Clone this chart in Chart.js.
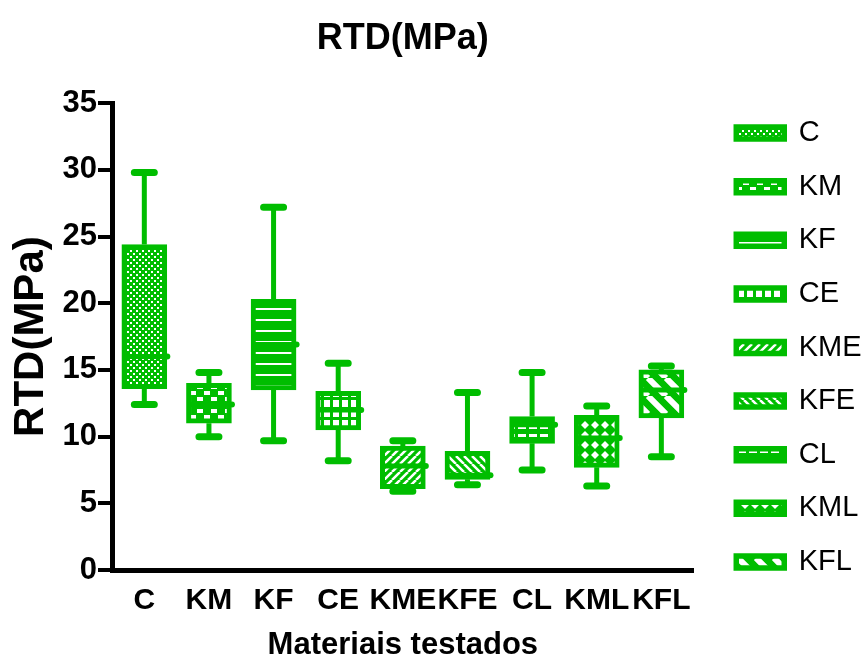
<!DOCTYPE html>
<html>
<head>
<meta charset="utf-8">
<script src="https://cdn.jsdelivr.net/npm/chart.js@4.4.1/dist/chart.umd.min.js"></script>
<style>
  html, body { margin: 0; padding: 0; background: #fff; }
</style>
</head>
<body>
<canvas id="rtdChart" width="866" height="664"></canvas>
<script>
// values (MPa)
const categories = ['C', 'KM', 'KF', 'CE', 'KME', 'KFE', 'CL', 'KML', 'KFL'];
const whiskerLow  = [12.4, 10.0,  9.7,  8.2, 5.9,  6.4,  7.5,  6.3,  8.5];
const quartile1   = [13.6, 11.0, 13.5, 10.5, 6.1,  6.8,  9.5,  7.7, 11.4];
const medians     = [16.0, 12.4, 16.9, 12.0, 7.8,  7.1, 10.9,  9.9, 13.5];
const quartile3   = [24.4, 14.0, 20.3, 13.4, 9.3,  8.9, 11.5, 11.6, 15.0];
const whiskerHigh = [29.8, 14.8, 27.2, 15.5, 9.7, 13.3, 14.8, 12.3, 15.3];
const yTicks = [0, 5, 10, 15, 20, 25, 30, 35];

const green = '#00bd00';
const sans = "'Liberation Sans', Arial, sans-serif";

// small tiles used as fill patterns, one per material
function makePattern(w, h, draw) {
    const c = document.createElement('canvas');
    c.width = w;
    c.height = h;
    const g = c.getContext('2d');
    g.fillStyle = green;
    g.fillRect(0, 0, w, h);
    g.fillStyle = '#fff';
    g.strokeStyle = '#fff';
    draw(g, w, h);
    return g.createPattern(c, 'repeat');
}

function stripes(g, s, width, dir) {
    g.lineWidth = width;
    g.beginPath();
    for (let k = -1; k <= 1; k++) {
        if (dir > 0) {
            g.moveTo(k * s, s);
            g.lineTo(k * s + s, 0);
        } else {
            g.moveTo(k * s, 0);
            g.lineTo(k * s + s, s);
        }
    }
    g.stroke();
}

const patterns = [
    makePattern(6, 6, g => { g.fillRect(1, 1, 2, 2); g.fillRect(4, 4, 2, 2); }),
    makePattern(14, 12, g => { g.fillRect(1, 1, 6, 4); g.fillRect(8, 7, 6, 4); }),
    makePattern(4, 11, g => { g.fillRect(0, 0, 4, 2); }),
    makePattern(9, 10, g => { g.fillRect(0, 0, 6, 7); }),
    makePattern(8, 8, g => stripes(g, 8, 2.5, 1)),
    makePattern(8, 8, g => stripes(g, 8, 2.5, -1)),
    makePattern(11, 8, g => { g.fillRect(1, 2, 8, 3); }),
    makePattern(10, 10, g => {
        g.beginPath();
        g.moveTo(5, 1); g.lineTo(9, 5); g.lineTo(5, 9); g.lineTo(1, 5);
        g.closePath();
        g.fill();
    }),
    makePattern(18, 18, g => stripes(g, 18, 6, -1))
];

// whiskers, caps and medians drawn on the chart's own scales
const boxPlotLines = {
    id: 'boxPlotLines',
    beforeLayout(chart) {
        // give the legend a little more room so long labels are not clipped
        const legend = chart.legend;
        if (legend && !legend._widened) {
            const fit = legend.fit.bind(legend);
            legend.fit = function () {
                fit();
                this.width += 10;
            };
            legend._widened = true;
        }
    },
    beforeDatasetsDraw(chart) {
        const {ctx, scales: {x, y}} = chart;
        ctx.save();
        ctx.strokeStyle = green;
        categories.forEach((c, i) => {
            const px = x.getPixelForValue(i);
            ctx.lineCap = 'butt';
            ctx.lineWidth = 5;
            ctx.beginPath();
            ctx.moveTo(px, y.getPixelForValue(quartile3[i]));
            ctx.lineTo(px, y.getPixelForValue(whiskerHigh[i]));
            ctx.moveTo(px, y.getPixelForValue(quartile1[i]));
            ctx.lineTo(px, y.getPixelForValue(whiskerLow[i]));
            ctx.stroke();
            ctx.lineCap = 'round';
            ctx.lineWidth = 7;
            ctx.beginPath();
            [whiskerHigh[i], whiskerLow[i]].forEach(v => {
                const py = y.getPixelForValue(v);
                ctx.moveTo(px - 10, py);
                ctx.lineTo(px + 10, py);
            });
            ctx.stroke();
        });
        ctx.restore();
    },
    afterDatasetsDraw(chart) {
        const {ctx, scales: {x, y}} = chart;
        ctx.save();
        ctx.strokeStyle = green;
        ctx.fillStyle = green;
        ctx.lineWidth = 5;
        categories.forEach((c, i) => {
            const px = x.getPixelForValue(i);
            const py = y.getPixelForValue(medians[i]);
            ctx.beginPath();
            ctx.moveTo(px - 20, py);
            ctx.lineTo(px + 22, py);
            ctx.stroke();
            ctx.beginPath();
            ctx.arc(px + 23, py, 3, 0, Math.PI * 2);
            ctx.fill();
        });
        ctx.restore();
    }
};

new Chart(document.getElementById('rtdChart'), {
    type: 'bar',
    data: {
        labels: categories,
        datasets: [{
            label: 'RTD',
            data: categories.map((c, i) => [quartile1[i], quartile3[i]]),
            backgroundColor: patterns,
            borderColor: green,
            borderWidth: 5,
            borderSkipped: false,
            barThickness: 45
        }]
    },
    options: {
        responsive: false,
        animation: false,
        layout: { padding: { left: 0, right: 0, top: 0, bottom: 0 } },
        plugins: {
            tooltip: { enabled: false },
            title: {
                display: true,
                text: 'RTD(MPa)',
                fullSize: false,
                color: '#000',
                font: { family: sans, size: 36, weight: 'bold' },
                padding: { top: 17, bottom: 43 }
            },
            legend: {
                position: 'right',
                onClick: () => {},
                title: { display: true, text: '', font: { size: 10 }, padding: { top: 19, bottom: 0 } },
                labels: {
                    boxWidth: 48,
                    boxHeight: 12,
                    padding: 24.6,
                    color: '#000',
                    font: { family: sans, size: 29 },
                    generateLabels: () => categories.map((c, i) => ({
                        text: c,
                        fillStyle: patterns[i],
                        strokeStyle: green,
                        fontColor: '#000',
                        lineWidth: 5.5,
                        hidden: false,
                        datasetIndex: 0,
                        index: i
                    }))
                }
            }
        },
        scales: {
            x: {
                type: 'category',
                offset: true,
                grid: { display: false, drawTicks: false },
                border: { color: '#000', width: 5 },
                ticks: {
                    color: '#000',
                    padding: 13,
                    autoSkip: false,
                    maxRotation: 0,
                    font: { family: sans, size: 30, weight: 'bold' }
                },
                title: {
                    display: true,
                    text: 'Materiais testados',
                    color: '#000',
                    font: { family: sans, size: 31, weight: 'bold' },
                    padding: { top: 0, bottom: 0 }
                },
                afterFit: s => { s.height = 94; }
            },
            y: {
                min: 0,
                max: 35,
                afterBuildTicks: s => { s.ticks = yTicks.map(v => ({ value: v })); },
                grid: { display: true, drawOnChartArea: false, tickLength: 14, lineWidth: 4, color: '#000' },
                border: { color: '#000', width: 5 },
                ticks: {
                    color: '#000',
                    padding: 1,
                    font: { family: sans, size: 31, weight: 'bold' }
                },
                title: {
                    display: true,
                    text: 'RTD(MPa)',
                    color: '#000',
                    font: { family: sans, size: 42, weight: 'bold' },
                    padding: { top: 6, bottom: 0 }
                },
                afterFit: s => { s.width = 112; }
            },
            spacer: {
                type: 'linear',
                position: 'right',
                display: true,
                grid: { display: false },
                border: { display: false },
                ticks: { display: false },
                afterFit: s => { s.width = 18; }
            }
        }
    },
    plugins: [boxPlotLines]
});
</script>
</body>
</html>
